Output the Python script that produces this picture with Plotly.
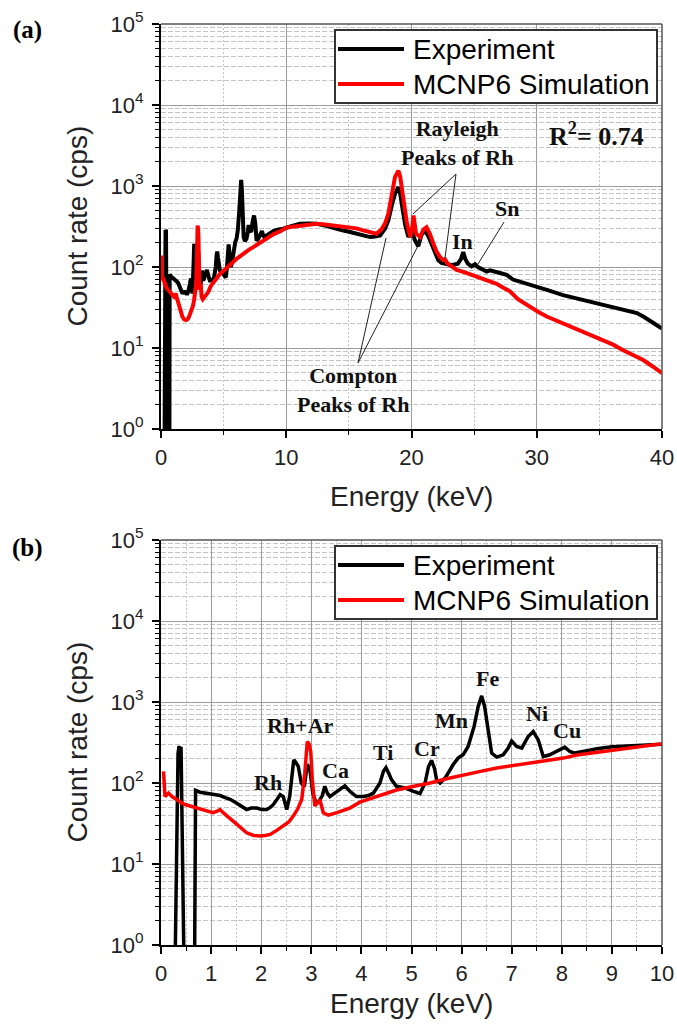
import plotly.graph_objects as go

# ---------------- data ----------------
# Measured XRF spectrum (keV, counts per second)
exp_energy = [0.28, 0.31, 0.34, 0.36, 0.38, 0.40, 0.43, 0.46, 0.67, 0.69, 0.78, 0.88, 0.98, 1.08,
              1.18, 1.28, 1.38, 1.48, 1.58, 1.71, 1.80, 1.91, 2.01, 2.11, 2.18, 2.24, 2.31, 2.38,
              2.44, 2.51, 2.57, 2.61, 2.65, 2.69, 2.74, 2.80, 2.86, 2.92, 2.97, 3.03, 3.10, 3.17,
              3.22, 3.27, 3.32, 3.37, 3.47, 3.56, 3.67, 3.77, 3.90, 4.04, 4.14, 4.24, 4.37, 4.44,
              4.49, 4.55, 4.60, 4.70, 4.87, 5.04, 5.17, 5.27, 5.34, 5.40, 5.46, 5.50, 5.57, 5.67,
              5.75, 5.83, 5.93, 6.03, 6.13, 6.25, 6.33, 6.40, 6.46, 6.53, 6.60, 6.70, 6.83, 6.93,
              7.00, 7.10, 7.20, 7.33, 7.43, 7.53, 7.63, 7.76, 7.96, 8.06, 8.16, 8.26, 8.50, 8.70,
              9.00, 9.40, 9.77, 10.4, 11.1, 11.8, 12.4, 13.1, 13.76, 14.4, 15.1, 15.9, 16.7, 17.1,
              17.5, 17.9, 18.15, 18.45, 18.68, 18.95, 19.1, 19.22, 19.5, 19.75, 20.0, 20.28, 20.54,
              20.8, 21.08, 21.35, 21.6, 21.9, 22.14, 22.4, 22.67, 23.2, 23.7, 23.95, 24.13, 24.3,
              24.5, 24.8, 25.07, 25.3, 26.0, 26.27, 27.2, 27.6, 28.1, 29.0, 30.0, 31.0, 32.1, 33.2,
              34.25, 35.2, 36.1, 37.0, 38.0, 38.6, 39.04, 39.5, 40.0]
exp_rate = [0.5, 20, 230, 287, 240, 280, 30, 0.5, 0.5, 81, 77, 75, 74, 71,
            70, 66, 63, 58, 53, 47, 49, 49, 47, 47, 50, 54, 62, 72,
            68, 47, 69, 120, 193, 180, 160, 100, 90, 170, 150, 75, 55, 62,
            70, 91, 75, 68, 75, 82, 92, 79, 68, 68, 70, 75, 100, 140,
            155, 130, 110, 91, 87, 79, 74, 100, 160, 190, 150, 110, 100, 115,
            140, 168, 203, 223, 282, 500, 875, 1190, 875, 412, 234, 209, 223, 270,
            330, 282, 270, 375, 431, 341, 212, 223, 262, 277, 245, 234, 250, 265,
            280, 290, 297, 320, 342, 345, 342, 325, 300, 285, 270, 250, 234, 238,
            245, 300, 376, 600, 800, 967, 800, 605, 330, 234, 283, 213, 180,
            250, 283, 240, 194, 150, 121, 112, 110, 105, 110, 125, 153, 125,
            110, 102, 108, 100, 88, 91, 83, 80, 70, 64, 57, 51, 45, 41,
            37, 34, 32, 29, 27, 24, 22, 19.5, 17.4]

# MCNP6 simulated spectrum (keV, counts per second)
sim_energy = [0.05, 0.07, 0.08, 0.12, 0.15, 0.22, 0.31, 0.45, 0.58, 0.72, 0.84, 0.95, 1.04, 1.12,
              1.18, 1.24, 1.31, 1.41, 1.51, 1.61, 1.71, 1.85, 1.98, 2.08, 2.18, 2.31, 2.44, 2.55,
              2.64, 2.73, 2.81, 2.87, 2.92, 2.96, 2.99, 3.02, 3.07, 3.12, 3.17, 3.24, 3.34, 3.51,
              3.77, 3.97, 4.3, 4.7, 5.0, 5.37, 5.7, 6.03, 6.4, 6.7, 7.0, 7.37, 7.7, 8.03,
              8.3, 9.0, 9.5, 10.0, 10.5, 11.1, 11.8, 12.43, 13.1, 13.76, 14.4, 15.1, 15.6, 16.15,
              16.7, 17.2, 17.6, 17.9, 18.15, 18.45, 18.68, 18.95, 19.1, 19.22, 19.45, 19.64, 19.9,
              20.05, 20.16, 20.25, 20.37, 20.7, 20.95, 21.2, 21.45, 21.75, 22.0, 22.28, 22.5, 22.67,
              22.85, 23.1, 23.6, 24.14, 24.8, 25.47, 26.2, 26.8, 27.3, 27.86, 28.5, 29.46, 30.1,
              30.8, 31.5, 32.1, 33.0, 33.7, 34.5, 35.3, 36.1, 36.9, 37.7, 38.5, 39.2, 39.6, 40.0]
sim_rate = [139, 90, 68, 72, 75, 68, 62, 55, 52, 49, 47, 44, 43, 45,
            47, 43, 39, 35, 31, 27, 24.3, 22.5, 22.1, 22.5, 23.2, 26, 29.3, 33,
            39, 48, 63, 133, 325, 300, 240, 110, 52, 58, 62, 43, 40, 43,
            49, 58, 68, 82, 90, 100, 113, 126, 140, 153, 163, 176, 190, 203,
            222, 255, 275, 305, 315, 326, 338, 342, 335, 326, 318, 310, 300, 283,
            270, 257, 290, 350, 454, 850, 1290, 1550, 1300, 967, 550, 342, 234,
            300, 433, 350, 257, 234, 290, 310, 260, 194, 155, 133, 122, 125,
            112, 105, 92, 87, 80, 72, 66, 62, 56, 50, 40, 32, 28,
            24.5, 22, 20, 17.5, 16, 14, 12.5, 11, 9.4, 8.2, 7.1, 6.0, 5.4, 4.9]

series_names = ["Experiment", "MCNP6 Simulation"]
series_colors = ["#000000", "#ff0000"]

x_ticks_a = [0, 10, 20, 30, 40]
x_minor_a = [5, 15, 25, 35]
x_ticks_b = list(range(0, 11))
x_minor_b = [k + 0.5 for k in range(10)]
y_ticks = [1, 10, 100, 1000, 10000, 100000]
y_ticktext = ["10<sup>%d</sup>" % k for k in range(6)]
y_minor = [m * 10 ** k for k in range(5) for m in range(2, 10)]

# ---------------- layout helpers ----------------
W, H = 677, 1026


def px(x):
    return x / W


def py(y):
    return 1 - y / H


SANS = "Arial, Liberation Sans, sans-serif"
SERIF = "Times New Roman, Liberation Serif, serif"

fig = go.Figure()

for xa, ya, width in (("x", "y", 4), ("x2", "y2", 3.5)):
    fig.add_trace(go.Scatter(x=exp_energy, y=exp_rate, mode="lines", xaxis=xa, yaxis=ya,
                             line=dict(color=series_colors[0], width=width),
                             name=series_names[0], showlegend=False))
    fig.add_trace(go.Scatter(x=sim_energy, y=sim_rate, mode="lines", xaxis=xa, yaxis=ya,
                             line=dict(color=series_colors[1], width=width),
                             name=series_names[1], showlegend=False))


def xaxis_cfg(rng, ticks, minor, anchor):
    return dict(domain=[px(161), px(662)], range=rng, anchor=anchor, automargin=False,
                tickmode="array", tickvals=ticks,
                ticks="outside", ticklen=7, tickwidth=1.5, tickcolor="#000",
                showline=True, linecolor="#000", linewidth=2, mirror=False,
                showgrid=True, gridcolor="#9c9c9c", gridwidth=1, zeroline=False,
                tickfont=dict(family=SANS, size=22, color="#222"),
                ticklabelstandoff=1,
                minor=dict(tickmode="array", tickvals=minor, ticks="outside", ticklen=4,
                           tickwidth=1, tickcolor="#000", showgrid=True,
                           gridcolor="#c4c4c4", gridwidth=1, griddash="2px,2px"))


def yaxis_cfg(top, bottom, anchor):
    return dict(type="log", domain=[py(bottom), py(top)], range=[0, 5], anchor=anchor,
                automargin=False,
                tickmode="array", tickvals=y_ticks, ticktext=y_ticktext,
                ticks="outside", ticklen=7, tickwidth=1.5, tickcolor="#000",
                showline=True, linecolor="#000", linewidth=2, mirror=False,
                showgrid=True, gridcolor="#9c9c9c", gridwidth=1, zeroline=False,
                tickfont=dict(family=SANS, size=22, color="#222"),
                ticklabelstandoff=4,
                minor=dict(tickmode="array", tickvals=y_minor, ticks="outside", ticklen=4,
                           tickwidth=1, tickcolor="#000", showgrid=True,
                           gridcolor="#c4c4c4", gridwidth=1, griddash="5px,2px"))


panels = [
    dict(top=24, bottom=429, label="(a)", label_y=30, xtitle_y=496),
    dict(top=540, bottom=945, label="(b)", label_y=548, xtitle_y=1003),
]

shapes = []
annotations = []

for i, p in enumerate(panels):
    # gray frame along the top and right edges
    shapes.append(dict(type="line", xref="paper", yref="paper", x0=px(161), x1=px(662),
                       y0=py(p["top"]), y1=py(p["top"]), line=dict(color="#555", width=1.5)))
    shapes.append(dict(type="line", xref="paper", yref="paper", x0=px(662), x1=px(662),
                       y0=py(p["top"]), y1=py(p["bottom"]), line=dict(color="#555", width=1.5)))
    # legend box
    lt = p["top"] + 6
    shapes.append(dict(type="rect", xref="paper", yref="paper", x0=px(335), x1=px(657),
                       y0=py(lt), y1=py(lt + 73), fillcolor="white",
                       line=dict(color="#333", width=2), layer="above"))
    for j in range(2):
        ry = lt + 19 + j * 35
        shapes.append(dict(type="line", xref="paper", yref="paper", x0=px(338), x1=px(404),
                           y0=py(ry), y1=py(ry), line=dict(color=series_colors[j], width=4),
                           layer="above"))
        annotations.append(dict(text=series_names[j], xref="paper", yref="paper", x=px(411),
                                y=py(ry), xanchor="left", yanchor="middle", showarrow=False,
                                font=dict(family=SANS, size=28, color="#000")))
    # panel label
    annotations.append(dict(text="<b>%s</b>" % p["label"], xref="paper", yref="paper",
                            x=px(27), y=py(p["label_y"]), xanchor="center", yanchor="middle",
                            showarrow=False, font=dict(family=SERIF, size=25, color="#000")))
    # axis titles
    annotations.append(dict(text="Count rate (cps)", xref="paper", yref="paper", x=px(77),
                            y=py((p["top"] + p["bottom"]) / 2), textangle=-90,
                            xanchor="center", yanchor="middle", showarrow=False,
                            font=dict(family=SANS, size=28, color="#222")))
    annotations.append(dict(text="Energy (keV)", xref="paper", yref="paper", x=px(411),
                            y=py(p["xtitle_y"]), xanchor="center", yanchor="middle",
                            showarrow=False, font=dict(family=SANS, size=28, color="#222")))


def label(text, x, y, size=22):
    annotations.append(dict(text="<b>%s</b>" % text, xref="paper", yref="paper", x=px(x), y=py(y),
                            xanchor="center", yanchor="middle", showarrow=False,
                            font=dict(family=SERIF, size=size, color="#111")))


def leader(x0, y0, x1, y1):
    shapes.append(dict(type="line", xref="paper", yref="paper", x0=px(x0), y0=py(y0),
                       x1=px(x1), y1=py(y1), line=dict(color="#222", width=1)))


# panel (a) peak labels
label("Rayleigh<br>Peaks of Rh", 457, 143)
label("R<sup>2</sup>= 0.74", 596, 135, size=26)
label("In", 462, 241)
label("Sn", 507, 208)
label("Compton<br>Peaks of Rh", 353, 390)
leader(456, 174, 413, 214)
leader(456, 174, 445, 258)
leader(358, 363, 386, 238)
leader(358, 363, 421, 240)
leader(504, 222, 478, 264)

# panel (b) element labels
for name, x, y in [("Rh", 268, 782), ("Rh+Ar", 300, 725), ("Ca", 335, 770), ("Ti", 383, 752),
                   ("Cr", 427, 748), ("Mn", 452, 720), ("Fe", 487, 678), ("Ni", 537, 713),
                   ("Cu", 567, 730)]:
    label(name, x, y)

fig.update_layout(
    width=W, height=H,
    margin=dict(l=0, r=0, t=0, b=0, autoexpand=False),
    paper_bgcolor="white", plot_bgcolor="white",
    showlegend=False,
    xaxis=xaxis_cfg([0, 40], x_ticks_a, x_minor_a, "y"),
    yaxis=yaxis_cfg(24, 429, "x"),
    xaxis2=xaxis_cfg([0, 10], x_ticks_b, x_minor_b, "y2"),
    yaxis2=yaxis_cfg(540, 945, "x2"),
    shapes=shapes,
    annotations=annotations,
)

fig.write_html("out.html")
